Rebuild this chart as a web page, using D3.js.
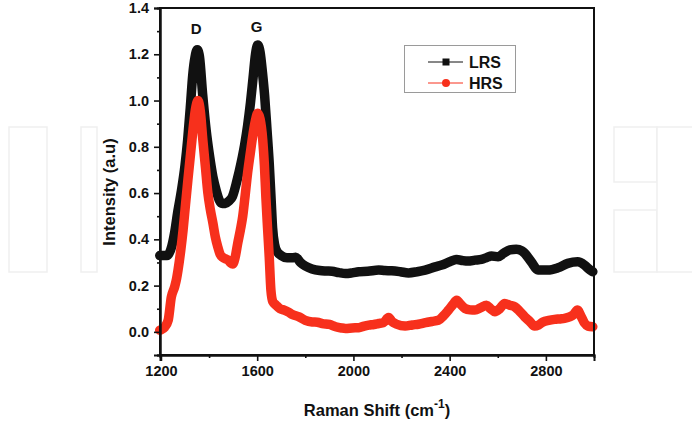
<!DOCTYPE html>
<html>
<head>
<meta charset="utf-8">
<script src="https://cdn.jsdelivr.net/npm/d3@7"></script>
<style>
    html, body { margin: 0; padding: 0; background: #fff; }
    svg { display: block; font-family: "Liberation Sans", Arial, sans-serif; }
</style>
</head>
<body>
<svg id="chart" width="692" height="424"></svg>
<script>
(function () {
    'use strict';

    // Raman shift (cm-1) and intensity
    var lrsShift = [1195, 1225, 1245, 1257, 1270, 1285, 1300, 1311, 1322, 1332, 1342, 1351, 1360, 1373, 1388, 1402, 1416, 1430, 1442, 1455, 1468, 1482, 1497, 1515, 1533, 1548, 1560, 1572, 1583, 1593, 1602, 1612, 1622, 1631, 1641, 1650, 1658, 1664, 1672, 1684, 1700, 1724, 1745, 1760, 1780, 1800, 1828, 1860, 1885, 1911, 1940, 1967, 1995, 2022, 2060, 2105, 2130, 2159, 2195, 2229, 2265, 2298, 2340, 2367, 2400, 2429, 2455, 2477, 2505, 2532, 2555, 2574, 2601, 2625, 2650, 2677, 2700, 2712, 2739, 2767, 2808, 2850, 2891, 2932, 2960, 2975, 2995];
    var lrsIntensity = [0.33, 0.33, 0.37, 0.43, 0.52, 0.61, 0.72, 0.83, 0.97, 1.11, 1.19, 1.22, 1.19, 1.03, 0.87, 0.76, 0.67, 0.61, 0.57, 0.555, 0.555, 0.565, 0.585, 0.65, 0.73, 0.81, 0.89, 0.99, 1.10, 1.20, 1.24, 1.21, 1.12, 1.02, 0.87, 0.73, 0.57, 0.45, 0.38, 0.345, 0.33, 0.32, 0.32, 0.323, 0.30, 0.285, 0.272, 0.265, 0.263, 0.262, 0.256, 0.252, 0.255, 0.26, 0.262, 0.267, 0.265, 0.264, 0.26, 0.255, 0.26, 0.267, 0.281, 0.289, 0.303, 0.313, 0.308, 0.306, 0.31, 0.313, 0.322, 0.328, 0.325, 0.34, 0.354, 0.357, 0.35, 0.34, 0.303, 0.267, 0.267, 0.277, 0.296, 0.303, 0.289, 0.275, 0.26];

    var hrsShift = [1195, 1202, 1215, 1230, 1243, 1257, 1265, 1271, 1282, 1292, 1302, 1312, 1323, 1333, 1343, 1354, 1364, 1374, 1385, 1395, 1405, 1416, 1426, 1436, 1446, 1457, 1470, 1480, 1490, 1498, 1508, 1519, 1530, 1540, 1550, 1560, 1571, 1581, 1592, 1602, 1612, 1623, 1630, 1636, 1643, 1650, 1657, 1665, 1678, 1695, 1712, 1730, 1746, 1774, 1800, 1829, 1850, 1871, 1900, 1926, 1950, 1967, 1995, 2022, 2045, 2064, 2085, 2105, 2125, 2146, 2160, 2180, 2215, 2245, 2270, 2300, 2326, 2353, 2375, 2395, 2415, 2429, 2445, 2464, 2485, 2505, 2530, 2553, 2570, 2588, 2608, 2629, 2650, 2671, 2690, 2712, 2733, 2753, 2770, 2788, 2812, 2836, 2860, 2877, 2900, 2915, 2932, 2945, 2960, 2975, 2995];
    var hrsIntensity = [0.007, 0.01, 0.02, 0.05, 0.15, 0.195, 0.23, 0.267, 0.35, 0.44, 0.55, 0.657, 0.77, 0.873, 0.96, 1.0, 0.95, 0.83, 0.71, 0.60, 0.53, 0.47, 0.41, 0.368, 0.335, 0.322, 0.315, 0.31, 0.298, 0.293, 0.32, 0.383, 0.44, 0.50, 0.59, 0.686, 0.77, 0.844, 0.91, 0.945, 0.92, 0.83, 0.72, 0.584, 0.45, 0.325, 0.18, 0.13, 0.116, 0.10, 0.094, 0.085, 0.075, 0.065, 0.05, 0.043, 0.042, 0.036, 0.032, 0.022, 0.017, 0.015, 0.017, 0.018, 0.025, 0.029, 0.032, 0.036, 0.04, 0.062, 0.045, 0.033, 0.025, 0.03, 0.033, 0.04, 0.045, 0.05, 0.07, 0.094, 0.12, 0.137, 0.12, 0.101, 0.095, 0.094, 0.105, 0.115, 0.10, 0.087, 0.1, 0.123, 0.115, 0.108, 0.09, 0.065, 0.045, 0.025, 0.03, 0.043, 0.05, 0.054, 0.056, 0.058, 0.065, 0.075, 0.094, 0.07, 0.039, 0.025, 0.022];

    var xTicks = [1200, 1600, 2000, 2400, 2800];
    var xMinor = [1400, 1800, 2200, 2600];
    var yTicks = [0.0, 0.2, 0.4, 0.6, 0.8, 1.0, 1.2, 1.4];
    var yMinor = [-0.1, 0.1, 0.3, 0.5, 0.7, 0.9, 1.1, 1.3];
    var seriesNames = ['LRS', 'HRS'];
    var seriesColors = ['#111111', '#f7301c'];
    var peakNames = ['D', 'G'];
    var peakShift = [1351, 1602];

    var svg = d3.select('#chart');
    var left = 160, right = 594, top = 8, bottom = 355;

    var x = d3.scaleLinear().domain([1196, 3000]).range([left, right]);
    var y = d3.scaleLinear().domain([-0.1, 1.4]).range([bottom, top]);

    // faint watermark blocks behind the figure
    var wm = svg.append('g').attr('class', 'watermark')
        .attr('fill', '#fff').attr('stroke', '#efefef').attr('stroke-width', 1.5);
    [[9, 127, 38, 145], [81, 127, 16, 145], [614, 127, 43, 55], [614, 210, 43, 62], [657, 127, 40, 145]]
        .forEach(function (r) {
            wm.append('rect').attr('x', r[0]).attr('y', r[1]).attr('width', r[2]).attr('height', r[3]);
        });

    var plot = svg.append('g').attr('class', 'plot');

    var line = function (xs, ys) {
        return d3.line()
            .x(function (d, i) { return x(xs[i]); })
            .y(function (d, i) { return y(ys[i]); })
            .curve(d3.curveMonotoneX)(xs);
    };

    plot.append('path')
        .attr('d', line(lrsShift, lrsIntensity))
        .attr('fill', 'none')
        .attr('stroke', seriesColors[0])
        .attr('stroke-width', 9.5)
        .attr('stroke-linejoin', 'round')
        .attr('stroke-linecap', 'round');

    plot.append('path')
        .attr('d', line(hrsShift, hrsIntensity))
        .attr('fill', 'none')
        .attr('stroke', seriesColors[1])
        .attr('stroke-width', 9.5)
        .attr('stroke-linejoin', 'round')
        .attr('stroke-linecap', 'round');

    // frame
    svg.append('rect')
        .attr('x', left).attr('y', top)
        .attr('width', right - left).attr('height', bottom - top)
        .attr('fill', 'none').attr('stroke', '#111').attr('stroke-width', 2);

    svg.append('g')
        .attr('transform', 'translate(0,' + bottom + ')')
        .call(d3.axisBottom(x).tickValues(xTicks).tickSize(6).tickPadding(5).tickFormat(d3.format('d')));
    svg.append('g')
        .attr('transform', 'translate(0,' + bottom + ')')
        .call(d3.axisBottom(x).tickValues(xMinor).tickSize(3).tickFormat(''));

    svg.append('g')
        .attr('transform', 'translate(' + left + ',0)')
        .call(d3.axisLeft(y).tickValues(yTicks).tickSize(6).tickPadding(5).tickFormat(d3.format('.1f')));
    svg.append('g')
        .attr('transform', 'translate(' + left + ',0)')
        .call(d3.axisLeft(y).tickValues(yMinor).tickSize(3).tickFormat(''));

    svg.selectAll('.domain').attr('stroke', '#111').attr('stroke-width', 2);
    svg.selectAll('.tick line').attr('stroke', '#111').attr('stroke-width', 1.6);
    svg.selectAll('.tick text')
        .attr('fill', '#111')
        .style('font-family', '"Liberation Sans", Arial, sans-serif')
        .style('font-size', '14.5px')
        .style('font-weight', 'bold');

    // axis titles
    var xTitle = svg.append('text')
        .attr('x', 377).attr('y', 416)
        .attr('text-anchor', 'middle')
        .style('font-size', '16.5px').style('font-weight', 'bold').attr('fill', '#111');
    xTitle.append('tspan').text('Raman Shift (cm');
    xTitle.append('tspan').attr('dy', -8).style('font-size', '12px').text('-1');
    xTitle.append('tspan').attr('dy', 8).text(')');

    svg.append('text')
        .attr('transform', 'translate(115,192) rotate(-90)')
        .attr('text-anchor', 'middle')
        .style('font-size', '16.5px').style('font-weight', 'bold').attr('fill', '#111')
        .text('Intensity (a.u)');

    // peak labels
    svg.selectAll('.peak')
        .data(peakNames)
        .enter().append('text')
        .attr('class', 'peak')
        .attr('x', function (d, i) { return x(peakShift[i]) - 1; })
        .attr('y', function (d, i) { return i === 0 ? 34 : 32; })
        .attr('text-anchor', 'middle')
        .style('font-size', '15px').style('font-weight', 'bold').attr('fill', '#111')
        .text(function (d) { return d; });

    // legend
    var legend = svg.append('g').attr('class', 'legend');
    legend.append('rect')
        .attr('x', 404.5).attr('y', 45.5).attr('width', 111).attr('height', 47)
        .attr('fill', '#fff').attr('stroke', '#9a9a9a').attr('stroke-width', 1);

    var legendItem = legend.selectAll('.item')
        .data(seriesNames)
        .enter().append('g')
        .attr('class', 'item')
        .attr('transform', function (d, i) { return 'translate(0,' + (62 + i * 21) + ')'; });

    legendItem.append('line')
        .attr('x1', 428).attr('x2', 463)
        .attr('stroke', function (d, i) { return seriesColors[i]; })
        .attr('stroke-width', 1);

    legendItem.each(function (d, i) {
        var g = d3.select(this);
        if (i === 0) {
            g.append('rect').attr('x', 442.5).attr('y', -3.5).attr('width', 7).attr('height', 7)
                .attr('fill', seriesColors[i]);
        } else {
            g.append('circle').attr('cx', 446).attr('cy', 0).attr('r', 4)
                .attr('fill', seriesColors[i]);
        }
    });

    legendItem.append('text')
        .attr('x', 469).attr('y', 6)
        .style('font-size', '16px').style('font-weight', 'bold').attr('fill', '#111')
        .text(function (d) { return d; });
})();
</script>
</body>
</html>
